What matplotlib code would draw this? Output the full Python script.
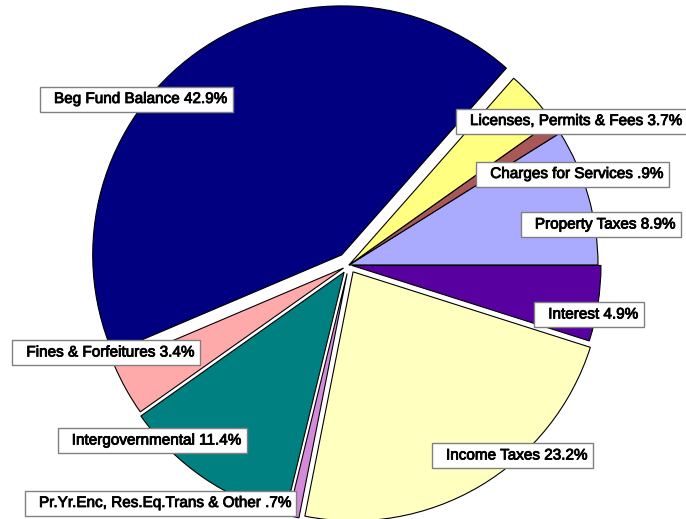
import matplotlib
matplotlib.use("Agg")
import matplotlib.pyplot as plt
from matplotlib.patches import Rectangle
import matplotlib.patheffects as pe

# ---- data (counter-clockwise from 3 o'clock) ----
categories = ["Property Taxes", "Charges for Services", "Licenses, Permits & Fees",
              "Beg Fund Balance", "Fines & Forfeitures", "Intergovernmental",
              "Pr.Yr.Enc, Res.Eq.Trans & Other", "Income Taxes", "Interest"]
shares = [8.9, 0.9, 3.7, 42.9, 3.4, 11.4, 0.7, 23.2, 4.9]
pct_labels = ["8.9%", ".9%", "3.7%", "42.9%", "3.4%", "11.4%", ".7%", "23.2%", "4.9%"]

# ---- styles / layout ----
colors = ["#AAAAFF", "#A85858", "#FFFF80", "#000080", "#FFAAAA", "#008080",
          "#D38AD8", "#FFFFC0", "#5800A0"]
explode_frac = [0.0, 0.0, 0.0, 0.05, 0.025, 0.035, 0.035, 0.032, 0.012]
# label anchors in image pixels: (text right edge x, box centre y)
label_pos = [(675, 224.5), (663, 174), (681, 121), (227, 99), (194, 352.5),
             (241, 440.5), (290, 503), (587, 455.5), (638, 314.5)]

W, H = 686, 519
fig = plt.figure(figsize=(W / 100, H / 100), dpi=100)
ax = fig.add_axes([0, 0, 1, 1])

R = 249
center = (349, H - 265)
ax.pie(shares, colors=colors, startangle=0, counterclock=True,
       radius=R, center=center, explode=[e * R for e in explode_frac],
       wedgeprops=dict(edgecolor="black", linewidth=0.8), frame=True)
ax.set_xlim(0, W)
ax.set_ylim(0, H)
ax.axis("off")

texts = []
for cat, pl, (xr, yc) in zip(categories, pct_labels, label_pos):
    t = ax.text(xr, H - yc, f"{cat} {pl}", ha="right", va="center",
                fontsize=11, family=["Liberation Sans", "DejaVu Sans"],
                color="black", zorder=5,
                path_effects=[pe.withStroke(linewidth=0.6, foreground="black")])
    texts.append((t, yc))

fig.canvas.draw()
renderer = fig.canvas.get_renderer()
inv = ax.transData.inverted()
for t, yc in texts:
    bb = t.get_window_extent(renderer)
    (x0, _), (x1, _) = inv.transform([(bb.x0, bb.y0), (bb.x1, bb.y1)])
    left, right = x0 - 14, x1 + 6
    ax.add_patch(Rectangle((left, H - yc - 12.5), right - left, 25,
                           facecolor="white", edgecolor="#808080",
                           linewidth=1.0, zorder=4))

fig.savefig("out.png", dpi=100)
